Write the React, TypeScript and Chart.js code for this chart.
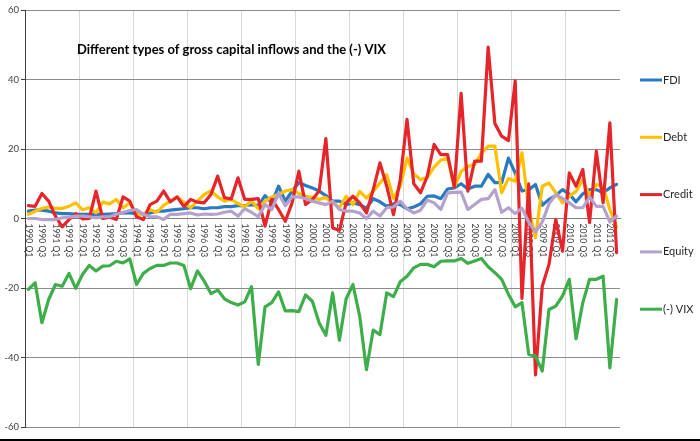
import React, { useEffect, useRef } from 'react';
import Chart from 'chart.js/auto';

// quarterly categories, 1990 Q1 .. 2011 Q4
const years = [1990, 1991, 1992, 1993, 1994, 1995, 1996, 1997, 1998, 1999, 2000, 2001,
  2002, 2003, 2004, 2005, 2006, 2007, 2008, 2009, 2010, 2011];
const quarterNames = ['Q1', 'Q2', 'Q3', 'Q4'];
const quarters = years.flatMap(y => quarterNames.map(q => `${y} ${q}`));

const fdi = [
  2.1, 2.4, 2.4, 2.1, 1.6, 1.4, 1.4, 1.2, 1.2, 1.2, 1.2, 1.2, 1.3, 1.4, 1.6, 1.6,
  1.4, 1.2, 1.6, 2.1, 2.1, 2.4, 2.6, 2.8, 3.1, 3.1, 2.8, 3.1, 3.1, 3.4, 3.4, 3.7,
  3.7, 4.0, 3.7, 6.6, 4.5, 9.3, 5.0, 7.9, 10.3, 9.5, 8.8, 7.9, 6.6, 5.0, 5.0, 4.0,
  4.5, 4.0, 3.0, 5.7, 4.8, 3.5, 4.2, 4.0, 2.8, 3.3, 4.2, 6.4, 6.5, 5.7, 8.5, 8.8,
  10.0, 8.5, 9.3, 9.3, 12.7, 10.3, 10.3, 17.4, 13.1, 7.9, 8.3, 9.8, 3.8, 5.5, 6.6, 8.3,
  7.0, 4.8, 7.1, 8.3, 8.3, 7.4, 8.8, 9.8,
];

const debt = [
  1.2, 2.1, 2.9, 3.3, 2.9, 2.9, 3.5, 4.5, 2.5, 3.1, 1.6, 4.7, 4.2, 5.5, 3.1, 4.5,
  1.2, 1.2, 2.5, 1.8, 3.8, 5.0, 6.2, 4.7, 3.1, 5.0, 6.9, 7.9, 6.2, 5.0, 5.5, 4.3,
  3.4, 5.0, 2.8, 5.0, 6.2, 6.9, 7.9, 8.3, 7.2, 6.4, 6.1, 5.5, 6.0, 4.5, 3.1, 6.4,
  4.0, 7.8, 5.9, 7.8, 10.2, 12.6, 5.8, 9.3, 17.4, 12.8, 11.2, 11.8, 14.8, 16.8, 17.4, 9.0,
  13.5, 15.0, 15.5, 18.8, 20.8, 20.8, 7.4, 11.5, 10.7, 18.9, 3.0, -5.5, 9.3, 10.2, 7.4, 4.5,
  6.4, 7.8, 11.2, 6.4, 9.8, 9.3, 2.6, -2.5,
];

const credit = [
  3.7, 3.5, 7.2, 5.0, 0.7, -2.4, -0.3, 1.4, -0.1, 0.0, 7.9, 0.0, 0.4, -0.3, 6.2, 5.0,
  0.5, -0.3, 4.0, 5.0, 7.9, 4.8, 6.2, 3.4, 5.5, 4.7, 4.5, 6.9, 12.2, 6.0, 5.6, 11.7,
  5.5, 5.5, 5.7, -2.2, 5.5, 2.6, -0.8, 4.5, 13.6, 4.0, 5.5, 7.9, 23.0, -2.7, -3.4, 4.5,
  6.4, 4.5, 1.6, 8.3, 16.0, 9.3, 1.1, 11.2, 28.5, 10.0, 7.4, 12.2, 21.3, 18.4, 18.4, 9.0,
  36.0, 7.9, 16.5, 16.5, 49.3, 27.3, 23.7, 22.4, 39.6, -23.0, 10.0, -45.0, -19.5, -13.2, -0.3, -9.4,
  13.1, 9.3, 14.1, -1.2, 19.4, 4.5, 27.5, -9.8,
];

const equity = [
  0.0, 0.0, -0.3, -0.3, -0.3, 0.2, 0.4, 0.7, 0.7, 0.5, 0.2, 0.5, 0.5, 1.2, 1.8, 2.3,
  2.6, 1.2, 0.5, 0.5, -0.3, 1.2, 1.2, 1.4, 1.6, 1.0, 1.3, 1.2, 1.3, 1.8, 2.1, 0.7,
  2.8, 1.8, 0.5, 4.0, 2.6, 7.2, 3.7, 6.2, 6.2, 5.7, 5.0, 4.5, 4.0, 5.0, 2.6, 2.1,
  2.1, 1.6, 0.0, 2.1, 0.7, 3.1, 3.3, 5.0, 2.8, 1.6, 2.4, 5.3, 4.5, 2.6, 7.4, 7.5,
  7.6, 2.6, 4.0, 5.5, 5.7, 8.3, 1.8, 3.1, 1.4, 3.0, -1.0, -3.9, -1.0, 4.2, 6.9, 5.8,
  4.5, 3.1, 3.1, 6.2, 3.5, 3.5, -1.0, 0.7,
];

const vix = [
  -20.4, -18.5, -30.0, -23.3, -19.0, -19.5, -15.8, -20.1, -16.1, -13.5, -15.1, -13.7, -13.6, -12.3, -12.8, -11.6,
  -19.0, -15.8, -14.4, -13.5, -13.5, -12.8, -12.8, -13.5, -20.2, -15.1, -18.0, -21.6, -20.6, -23.1, -24.2, -24.9,
  -24.0, -19.6, -42.0, -25.4, -24.2, -21.1, -26.6, -26.5, -26.8, -22.0, -23.8, -30.0, -33.6, -21.4, -35.0, -23.1,
  -19.0, -28.1, -43.5, -32.1, -33.4, -21.4, -22.5, -18.2, -16.6, -14.2, -13.2, -13.2, -13.9, -12.3, -12.2, -12.2,
  -11.5, -12.9, -12.2, -11.5, -13.9, -15.6, -17.5, -21.8, -25.4, -24.2, -39.1, -39.6, -43.9, -26.2, -25.2, -22.3,
  -17.5, -34.6, -24.2, -17.5, -17.5, -16.6, -43.0, -23.3,
];

const seriesNames = ['FDI', 'Debt', 'Credit', 'Equity', '(-) VIX'];
const seriesColors = ['#2a7abf', '#ffc000', '#e5252a', '#b5a1cd', '#3dae4a'];
const yMin = -60;
const yMax = 60;
const yStep = 20;
const chartTitle = 'Different types of gross capital inflows and the (-) VIX';

const overlayPlugin = {
  id: 'overlay',
  beforeDatasetsDraw(chart: any) {
    const { ctx, scales } = chart;
    const x = scales.x;
    const y0 = scales.y.getPixelForValue(0);
    ctx.save();
    // category labels hang below the zero line, read top to bottom
    ctx.font = '8.5px Lato';
    ctx.fillStyle = '#404040';
    ctx.textAlign = 'left';
    ctx.textBaseline = 'middle';
    quarters.forEach((q, i) => {
      if (i % 2) return;
      ctx.save();
      ctx.translate(x.getPixelForValue(i), y0 + 5);
      ctx.rotate(Math.PI / 2);
      ctx.fillText(q, 0, 0);
      ctx.restore();
    });
    ctx.font = 'bold 13px Lato';
    ctx.fillStyle = '#000';
    ctx.fillText(chartTitle, chart.chartArea.left + 52, 50);
    ctx.restore();
  },
  afterDraw(chart: any) {
    const { ctx } = chart;
    ctx.save();
    chart.data.datasets.forEach((ds: any, i: number) => {
      const cy = 80 + i * 57.3;
      ctx.strokeStyle = ds.borderColor;
      ctx.lineWidth = 3;
      ctx.beginPath();
      ctx.moveTo(640, cy);
      ctx.lineTo(662, cy);
      ctx.stroke();
      ctx.font = '11px Lato';
      ctx.fillStyle = '#262626';
      ctx.textAlign = 'left';
      ctx.textBaseline = 'middle';
      ctx.fillText(ds.label, 663, cy);
    });
    // frame edge at the bottom
    ctx.fillStyle = '#000';
    ctx.fillRect(0, chart.height - 2, chart.width, 2);
    ctx.restore();
  },
};

const App: React.FC = () => {
  const canvasRef = useRef<HTMLCanvasElement>(null);

  useEffect(() => {
    if (!canvasRef.current) return;
    const allSeries = [fdi, debt, credit, equity, vix];
    const chart = new Chart(canvasRef.current, {
      type: 'line',
      data: {
        labels: quarters,
        datasets: allSeries.map((data, i) => ({
          label: seriesNames[i],
          data,
          borderColor: seriesColors[i],
          backgroundColor: seriesColors[i],
          borderWidth: 3.2,
          pointRadius: 0,
          tension: 0,
          fill: false,
          borderJoinStyle: 'round' as const,
          borderCapStyle: 'round' as const,
          order: allSeries.length - i,
        })),
      },
      options: {
        animation: false,
        responsive: true,
        maintainAspectRatio: false,
        layout: { padding: { top: 10, right: 80, bottom: 14, left: 0 } },
        plugins: {
          legend: { display: false },
          title: { display: false },
          tooltip: { enabled: false },
        },
        scales: {
          x: {
            type: 'category',
            position: { y: 0 } as any,
            offset: true,
            ticks: { display: false, autoSkip: false },
            grid: {
              offset: true,
              drawTicks: false,
              color: (c: any) => (c.index % 8 === 0 ? '#d9d9d9' : 'rgba(0,0,0,0)'),
              lineWidth: 1,
            },
            border: { display: true, color: '#7f7f7f', width: 1 },
          },
          y: {
            min: yMin,
            max: yMax,
            afterFit: (s: any) => { s.width = 25; },
            ticks: {
              stepSize: yStep,
              padding: 2,
              color: '#404040',
              font: { family: 'Lato', size: 9.5 },
            },
            grid: {
              color: '#8c8c8c',
              lineWidth: 1,
              tickLength: 4,
              tickColor: '#404040',
            },
            border: { display: true, color: '#404040', width: 1 },
          },
        },
      },
      plugins: [overlayPlugin],
    });
    return () => chart.destroy();
  }, []);

  return (
    <div style={{ position: 'absolute', left: 0, top: 0, width: 700, height: 441, background: '#fff' }}>
      <canvas ref={canvasRef}></canvas>
    </div>
  );
};

export default App;
